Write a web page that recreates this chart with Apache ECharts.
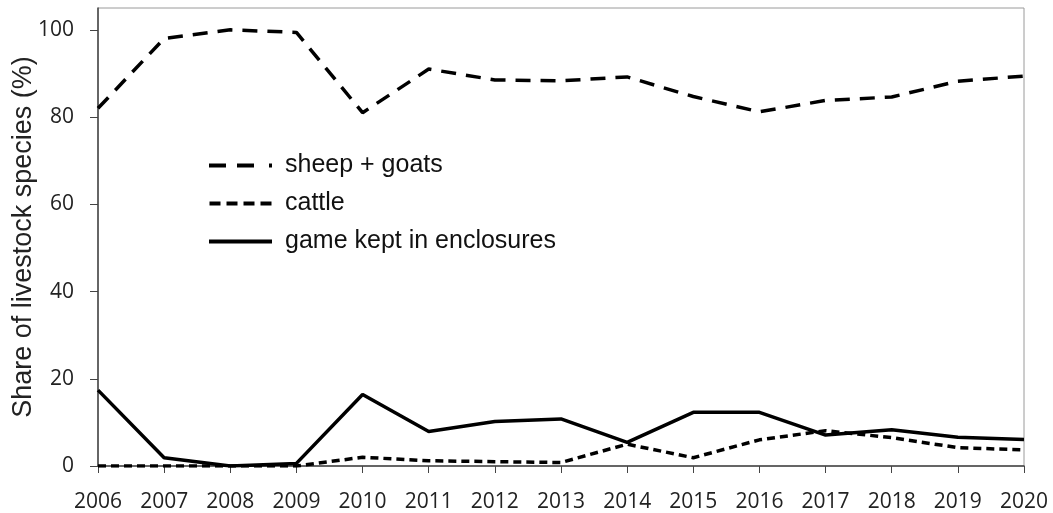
<!DOCTYPE html>
<html><head><meta charset="utf-8">
<script src="https://cdn.jsdelivr.net/npm/echarts@6/dist/echarts.min.js"></script>
<style>html,body{margin:0;padding:0;background:#fff}#c{width:1053px;height:513px}</style>
</head><body><div id="c"></div>
<script>
const years = ['2006','2007','2008','2009','2010','2011','2012','2013','2014','2015','2016','2017','2018','2019','2020'];
const sheepGoats = [82, 98, 100, 99.4, 81, 91, 88.5, 88.3, 89.2, 84.7, 81.2, 83.8, 84.6, 88.2, 89.4];
const cattle = [0, 0, 0, 0, 2.0, 1.2, 1.0, 0.8, 5.0, 1.9, 6.0, 8.1, 6.5, 4.2, 3.7];
const game = [17.4, 1.9, 0, 0.6, 16.4, 7.9, 10.2, 10.8, 5.4, 12.3, 12.3, 7.1, 8.3, 6.6, 6.1];
const yTicks = [0, 20, 40, 60, 80, 100];
const seriesNames = ['sheep + goats', 'cattle', 'game kept in enclosures'];

const legendIcons = [
  'path://M0 0H17V4H0Z M28 0H45V4H28Z M60 0H63V4H60Z',
  'path://M0 0H11V4H0Z M17 0H28V4H17Z M34 0H45V4H34Z M51 0H62V4H51Z',
  'path://M0 0H63V4H0Z'
];

const chart = echarts.init(document.getElementById('c'));
const font = 'Liberation Sans, Arial, sans-serif';
chart.setOption({
  animation: false,
  grid: { left: 98, right: 29, top: 8, bottom: 47, show: true, borderColor: '#9a9a9a', borderWidth: 1,
          containLabel: false, outerBoundsMode: 'none' },
  legend: {
    orient: 'vertical', left: 204, top: 148, itemWidth: 63, itemHeight: 4, itemGap: 13,
    textStyle: { fontFamily: font, fontSize: 25, lineHeight: 25, color: '#111', padding: [0, 0, 0, 8] },
    data: seriesNames.map((n, i) => ({ name: n, icon: legendIcons[i], itemStyle: { color: '#000' } }))
  },
  xAxis: {
    type: 'category', data: years, boundaryGap: false,
    axisLine: { lineStyle: { color: '#444', width: 1.5 } },
    axisTick: { show: true, length: 7, inside: false, lineStyle: { color: '#444' } },
    axisLabel: { fontFamily: 'Open Sans, sans-serif', fontSize: 21, color: '#222', margin: 26, interval: 0 },
    splitLine: { show: false }
  },
  yAxis: {
    type: 'value', min: 0, max: 105,
    name: 'Share of livestock species (%)', nameLocation: 'middle', nameGap: 61, nameMoveOverlap: false,
    nameTextStyle: { fontFamily: font, fontSize: 27, color: '#222' },
    axisLine: { show: true, lineStyle: { color: '#444', width: 1.5 } },
    axisTick: { show: true, length: 8, customValues: yTicks, lineStyle: { color: '#444' } },
    axisLabel: { fontFamily: 'Open Sans, sans-serif', fontSize: 21, color: '#222', margin: 24, customValues: yTicks },
    splitLine: { show: false }
  },
  series: [
    { name: seriesNames[0], type: 'line', data: sheepGoats, symbol: 'none',
      lineStyle: { color: '#000', width: 3.5, type: [15, 10] }, itemStyle: { color: '#000' } },
    { name: seriesNames[1], type: 'line', data: cattle, symbol: 'none',
      lineStyle: { color: '#000', width: 3.5, type: [8, 5] }, itemStyle: { color: '#000' } },
    { name: seriesNames[2], type: 'line', data: game, symbol: 'none',
      lineStyle: { color: '#000', width: 3.5, type: 'solid' }, itemStyle: { color: '#000' } }
  ]
});
</script></body></html>
